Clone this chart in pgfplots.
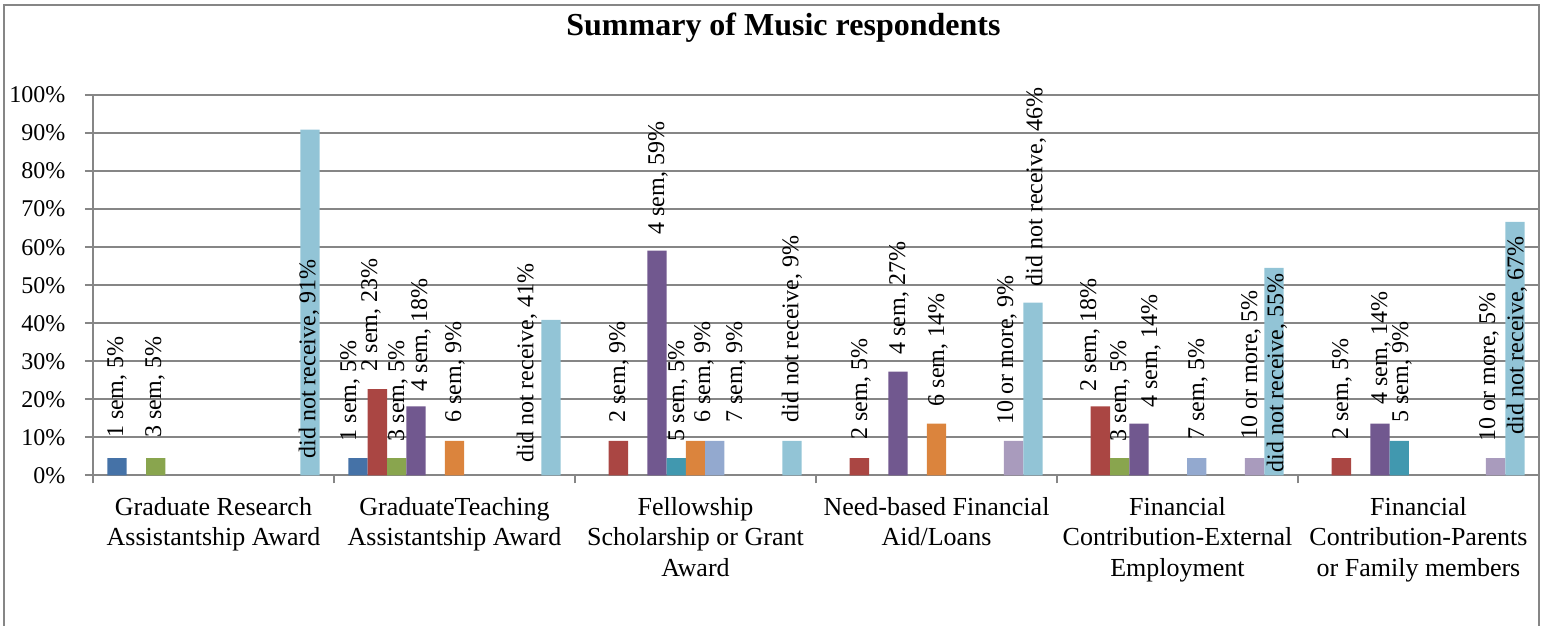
\documentclass[border=0pt]{standalone}
\usepackage{pgfplots}
\pgfplotsset{compat=1.18}
\usepackage{fontspec}
\setmainfont{Liberation Serif}
\definecolor{gridgray}{RGB}{134,134,134}
\definecolor{sA}{HTML}{4572A7}
\definecolor{sB}{HTML}{AA4643}
\definecolor{sC}{HTML}{89A54E}
\definecolor{sD}{HTML}{71588F}
\definecolor{sE}{HTML}{4198AF}
\definecolor{sF}{HTML}{DB843D}
\definecolor{sG}{HTML}{93A9CF}
\definecolor{sJ}{HTML}{A99BBD}
\definecolor{sK}{HTML}{92C4D6}
\begin{document}
\begin{tikzpicture}
\useasboundingbox (-46.5pt,-75.25pt) rectangle (727.5pt,237.75pt);
\draw[gridgray, line width=1pt] (-44.5pt,-80pt) -- (-44.5pt,235.25pt) -- (723pt,235.25pt) -- (723pt,-80pt);
\begin{axis}[
  name=ax, at={(0,0)}, anchor=south west,
  scale only axis, width=723pt, height=190.25pt,
  xmin=-0.5, xmax=5.5, ymin=0, ymax=100,
  axis lines*=left,
  axis line style={gridgray, line width=1pt},
  ymajorgrids, grid style={gridgray, line width=1pt},
  tick align=outside, major tick length=4pt, minor tick length=4pt,
  tick style={gridgray, line width=1pt},
  ytick={0,10,...,100},
  yticklabel={\pgfmathprintnumber{\tick}\%},
  /pgf/number format/assume math mode=true,
  yticklabel style={font=\fontsize{12}{14}\selectfont, inner sep=0pt, anchor=east, xshift=-9.65pt},
  xtick={0,...,5},
  minor xtick={-0.5,0.5,...,5.5},
  major x tick style={draw=none},
  xticklabels={{\strut Graduate Research\\Assistantship Award},{\strut GraduateTeaching\\Assistantship Award},{\strut Fellowship\\Scholarship or Grant\\Award},{\strut Need-based Financial\\Aid/Loans},{\strut Financial\\Contribution-External\\Employment},{\strut Financial\\Contribution-Parents\\or Family members}},
  xticklabel style={align=center, font=\fontsize{13}{15.25}\selectfont, anchor=north, inner sep=0pt, yshift=-5.1pt},
  title={Summary of Music respondents},
  title style={at={(0.4775,1)}, anchor=base, yshift=23.5pt, inner sep=0pt, font=\fontsize{16}{19}\selectfont\bfseries},
  clip=false,
]
% 1 sem
\addplot[ybar, bar width=0.08, bar shift=0pt, fill=sA, draw=none] coordinates {(-0.40,4.55) (0.60,4.55)};
% 2 sem
\addplot[ybar, bar width=0.08, bar shift=0pt, fill=sB, draw=none] coordinates {(0.68,22.73) (1.68,9.09) (2.68,4.55) (3.68,18.18) (4.68,4.55)};
% 3 sem
\addplot[ybar, bar width=0.08, bar shift=0pt, fill=sC, draw=none] coordinates {(-0.24,4.55) (0.76,4.55) (3.76,4.55)};
% 4 sem
\addplot[ybar, bar width=0.08, bar shift=0pt, fill=sD, draw=none] coordinates {(0.84,18.18) (1.84,59.09) (2.84,27.27) (3.84,13.64) (4.84,13.64)};
% 5 sem
\addplot[ybar, bar width=0.08, bar shift=0pt, fill=sE, draw=none] coordinates {(1.92,4.55) (4.92,9.09)};
% 6 sem
\addplot[ybar, bar width=0.08, bar shift=0pt, fill=sF, draw=none] coordinates {(1,9.09) (2,9.09) (3,13.64)};
% 7 sem
\addplot[ybar, bar width=0.08, bar shift=0pt, fill=sG, draw=none] coordinates {(2.08,9.09) (4.08,4.55)};
% 10 or more
\addplot[ybar, bar width=0.08, bar shift=0pt, fill=sJ, draw=none] coordinates {(3.32,9.09) (4.32,4.55) (5.32,4.55)};
% did not receive
\addplot[ybar, bar width=0.08, bar shift=0pt, fill=sK, draw=none] coordinates {(0.40,90.91) (1.40,40.91) (2.40,9.09) (3.40,45.45) (4.40,54.55) (5.40,66.67)};
% data labels
\addplot[draw=none, mark=none, nodes near coords, point meta=explicit symbolic,
  every node near coord/.append style={rotate=90, anchor=west, inner sep=0pt, font=\fontsize{12}{14}\selectfont, text=black}]
coordinates {
(-0.4004,9.86) [1 sem, 5\%]
(-0.2427,9.86) [3 sem, 5\%]
(0.3963,4.34) [did not receive, 91\%]
(0.5664,8.88) [1 sem, 5\%]
(0.6535,27.28) [2 sem, 23\%]
(0.7656,8.88) [3 sem, 5\%]
(0.8610,22.02) [4 sem, 18\%]
(1.0021,13.80) [6 sem, 9\%]
(1.3008,3.29) [did not receive, 41\%]
(1.6826,13.80) [2 sem, 9\%]
(1.8444,63.21) [4 sem, 59\%]
(1.9274,8.88) [5 sem, 5\%]
(2.0353,13.80) [6 sem, 9\%]
(2.1680,13.80) [7 sem, 9\%]
(2.4004,13.80) [did not receive, 9\%]
(2.6867,9.33) [2 sem, 5\%]
(2.8444,31.67) [4 sem, 27\%]
(3.0062,18.08) [6 sem, 14\%]
(3.2925,13.27) [10 or more, 9\%]
(3.4129,49.62) [did not receive, 46\%]
(3.6369,22.02) [2 sem, 18\%]
(3.7614,8.88) [3 sem, 5\%]
(3.8900,17.74) [4 sem, 14\%]
(4.0851,9.33) [7 sem, 5\%]
(4.3050,9.33) [10 or more, 5\%]
(4.4129,0.66) [did not receive, 55\%]
(4.6826,9.33) [2 sem, 5\%]
(4.8444,18.53) [4 sem, 14\%]
(4.9315,13.80) [5 sem, 9\%]
(5.2925,8.88) [10 or more, 5\%]
(5.4087,10.64) [did not receive, 67\%]
};
\end{axis}
\end{tikzpicture}
\end{document}
